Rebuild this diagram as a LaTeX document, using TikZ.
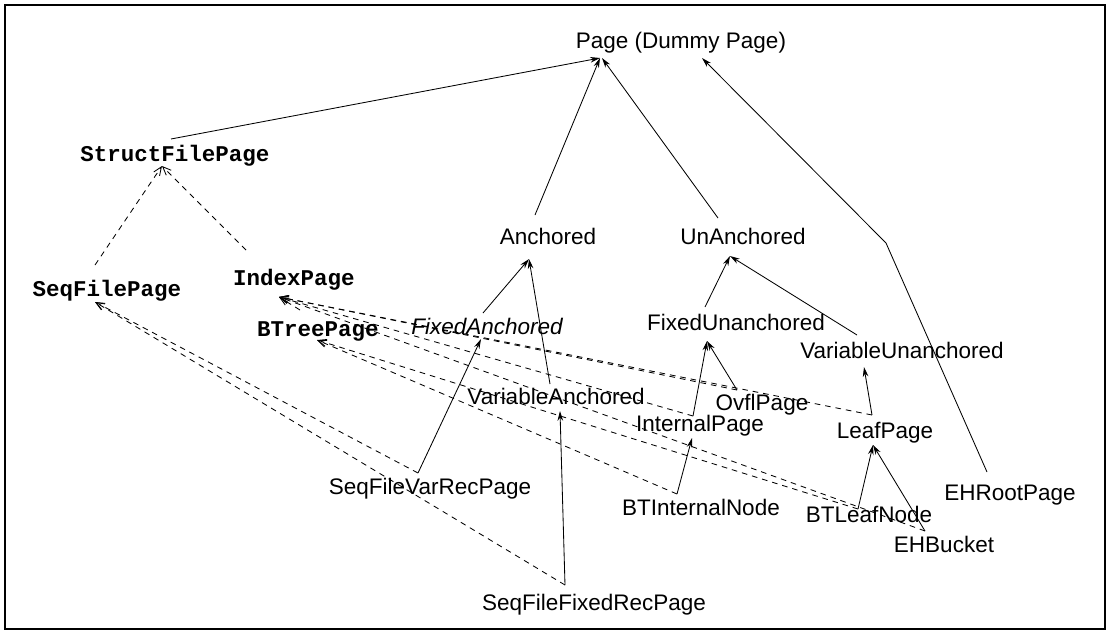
\documentclass[tikz,border=0pt]{standalone}
\usepackage{fontspec}
\setmainfont{Liberation Sans}
\setmonofont{Liberation Mono}
\usetikzlibrary{arrows.meta,calc}

\begin{document}
\begin{tikzpicture}[x=0.025cm,y=-0.025cm,>={Stealth[length=7pt,width=4pt]},
    cls/.style={inner sep=0pt,text height=11.5pt,text depth=0pt,font=\fontsize{16}{19}\selectfont},
    ttcls/.style={cls,font=\fontsize{16}{19}\selectfont\ttfamily\bfseries},
    isa/.style={->,line width=0.6pt},
    mix/.style={-{Straight Barb[length=6pt,width=5pt]},line width=0.6pt,dash pattern=on 4pt off 3.5pt}]
  \useasboundingbox (0,0) rectangle (1113,639);
  \draw[line width=1pt] (5,5) rectangle (1105,629);

  % classes
  \node[cls] (page) at (681,40) {Page (Dummy Page)};
  \node[ttcls] (struct) at (175,153) {StructFilePage};
  \node[ttcls] (seqfile) at (107,288) {SeqFilePage};
  \node[ttcls] (index) at (294,277) {IndexPage};
  \node[ttcls] (btree) at (318,328) {BTreePage};
  \node[cls,font=\fontsize{16}{19}\selectfont\itshape] (fixanch) at (487,326) {FixedAnchored};
  \node[cls] (anch) at (548,236) {Anchored};
  \node[cls] (unanch) at (743,236) {UnAnchored};
  \node[cls] (fixun) at (736,322) {FixedUnanchored};
  \node[cls] (varun) at (902,350) {VariableUnanchored};
  \node[cls] (varanch) at (556,396) {VariableAnchored};
  \node[cls] (ovfl) at (762,402) {OvflPage};
  \node[cls] (internal) at (700,423) {InternalPage};
  \node[cls] (leaf) at (885,430) {LeafPage};
  \node[cls] (varrec) at (430,486) {SeqFileVarRecPage};
  \node[cls] (ehroot) at (1010,492) {EHRootPage};
  \node[cls] (btint) at (701,507) {BTInternalNode};
  \node[cls] (btleaf) at (869,514) {BTLeafNode};
  \node[cls] (ehbucket) at (944,544) {EHBucket};
  \node[cls] (fixrec) at (594,602) {SeqFileFixedRecPage};
  \coordinate (bend) at (886,243);

  % single inheritance
  \draw[isa] ($(struct.center)+(-4,-14)$) -- ($(page.center)+(-81,18)$);
  \draw[isa] ($(anch.center)+(-13,-21)$) -- ($(page.center)+(-81,18)$);
  \draw[isa] ($(unanch.center)+(-25,-18)$) -- ($(page.center)+(-79,18)$);
  \draw[isa] ($(ehroot.center)+(-23,-20)$) -- (bend) -- ($(page.center)+(21,18)$);
  \draw[isa] ($(fixanch.center)+(-4,-13)$) -- ($(anch.center)+(-19,23)$);
  \draw[isa] ($(varanch.center)+(-6,-12)$) -- ($(anch.center)+(-19,23)$);
  \draw[isa] ($(varrec.center)+(-12,-13)$) -- ($(fixanch.center)+(-6,13)$);
  \draw[isa] ($(fixrec.center)+(-29,-17)$) -- ($(varanch.center)+(4,15)$);
  \draw[isa] ($(fixun.center)+(-31,-15)$) -- ($(unanch.center)+(-13,20)$);
  \draw[isa] ($(varun.center)+(-45,-15)$) -- ($(unanch.center)+(-13,20)$);
  \draw[isa] ($(ovfl.center)+(-25,-12)$) -- ($(fixun.center)+(-29,19)$);
  \draw[isa] ($(internal.center)+(-7,-7)$) -- ($(fixun.center)+(-29,19)$);
  \draw[isa] ($(leaf.center)+(-13,-15)$) -- ($(varun.center)+(-38,17)$);
  \draw[isa] ($(btint.center)+(-24,-13)$) -- ($(internal.center)+(-8,15)$);
  \draw[isa] ($(btleaf.center)+(-11,-5)$) -- ($(leaf.center)+(-12,15)$);
  \draw[isa] ($(ehbucket.center)+(-19,-13)$) -- ($(leaf.center)+(-12,15)$);

  % mixed in from the file page side
  \draw[mix] ($(seqfile.center)+(-12,-23)$) -- ($(struct.center)+(-13,13)$);
  \draw[mix] ($(index.center)+(-48,-27)$) -- ($(struct.center)+(-13,13)$);
  \draw[mix] ($(btree.center)+(-18,-18)$) -- ($(index.center)+(-15,20)$);
  \draw[mix] ($(varrec.center)+(-12,-13)$) -- ($(seqfile.center)+(-12,14)$);
  \draw[mix] ($(fixrec.center)+(-29,-17)$) -- ($(seqfile.center)+(-12,14)$);
  \draw[mix] ($(ovfl.center)+(-25,-12)$) -- ($(index.center)+(-15,20)$);
  \draw[mix] ($(internal.center)+(-7,-7)$) -- ($(index.center)+(-15,20)$);
  \draw[mix] ($(leaf.center)+(-13,-15)$) -- ($(index.center)+(-15,20)$);
  \draw[mix] ($(ehbucket.center)+(-19,-13)$) -- ($(index.center)+(-15,20)$);
  \draw[mix] ($(btint.center)+(-24,-13)$) -- ($(btree.center)+(-1,12)$);
  \draw[mix] ($(btleaf.center)+(-11,-5)$) -- ($(btree.center)+(-1,12)$);
\end{tikzpicture}
\end{document}
